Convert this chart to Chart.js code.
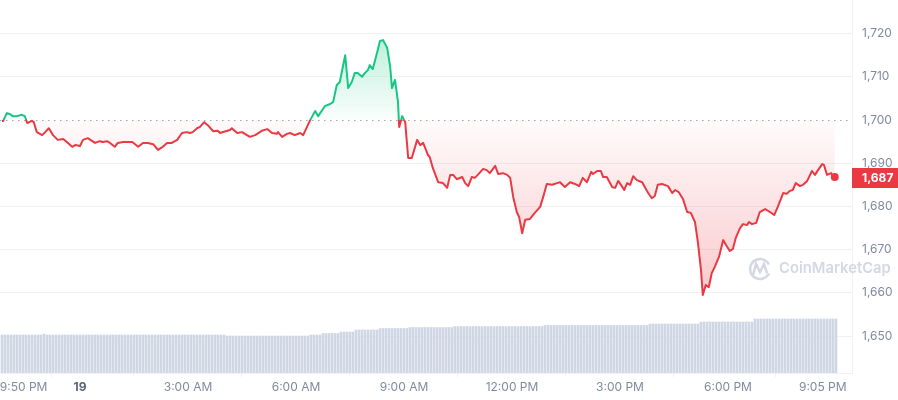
<!DOCTYPE html>
<html>
<head>
<meta charset="utf-8">
<script src="https://cdn.jsdelivr.net/npm/chart.js@4.4.0/dist/chart.umd.min.js"></script>
<style>
  html, body { margin: 0; padding: 0; background: #fff; }
  #wrap { width: 898px; height: 400px; position: relative; }
</style>
</head>
<body>
<div id="wrap"><canvas id="chart"></canvas></div>
<script>
/* price chart, 24h, minutes counted from 9:50 PM */

const priceTimes = [
  0, 2, 8, 13, 18, 25, 33, 38, 42, 50, 53, 58, 67, 72, 78, 85, 93, 102, 108, 117,
  122, 130, 135, 143, 155, 163, 168, 175, 180, 188, 193, 202, 210, 217, 227, 235, 243, 252, 260, 268,
  275, 283, 292, 300, 308, 313, 318, 325, 330, 337, 343, 352, 360, 363, 380, 383, 392, 400, 413, 422,
  433, 442, 450, 458, 460, 467, 475, 480, 488, 497, 502, 513, 522, 527, 538, 547, 552, 558, 563, 572,
  577, 583, 588, 593, 600, 605, 610, 613, 618, 625, 630, 635, 642, 647, 650, 655, 660, 662, 667, 672,
  677, 683, 692, 697, 702, 710, 713, 718, 727, 735, 742, 747, 752, 758, 767, 772, 777, 783, 788, 793,
  802, 808, 813, 822, 827, 835, 842, 847, 852, 858, 862, 867, 872, 880, 888, 897, 902, 908, 917, 925,
  930, 938, 947, 955, 962, 968, 975, 982, 985, 992, 998, 1002, 1008, 1017, 1022, 1027, 1033, 1037, 1042, 1047,
  1052, 1058, 1067, 1072, 1077, 1083, 1088, 1093, 1100, 1110, 1117, 1122, 1128, 1135, 1142, 1148, 1155, 1160, 1165, 1168,
  1173, 1178, 1183, 1188, 1195, 1202, 1208, 1213, 1218, 1223, 1230, 1235, 1242, 1245, 1250, 1257, 1263, 1272, 1280, 1287,
  1293, 1302, 1308, 1313, 1318, 1323, 1330, 1335, 1342, 1350, 1355, 1360, 1367, 1370, 1375, 1382, 1385, 1388
];

const priceValues = [
  1699.8, 1699.8, 1701.6, 1701.4, 1700.9, 1700.9, 1701.2, 1700.9, 1699.3, 1699.8, 1699.5, 1697.2, 1696.5, 1697.2, 1698.1, 1696.5, 1695.4, 1695.6, 1694.9, 1693.8,
  1694.2, 1694.0, 1695.4, 1695.8, 1694.7, 1695.1, 1694.9, 1695.1, 1694.7, 1693.8, 1694.7, 1694.9, 1694.9, 1694.9, 1693.8, 1694.7, 1694.7, 1694.4, 1693.1, 1693.8,
  1694.7, 1694.7, 1695.4, 1697.0, 1697.2, 1697.0, 1697.2, 1698.1, 1698.4, 1699.5, 1698.8, 1697.4, 1697.5, 1697.0, 1697.7, 1698.1, 1697.0, 1697.2, 1696.1, 1696.5,
  1697.5, 1697.9, 1697.0, 1696.8, 1697.2, 1696.1, 1696.8, 1697.0, 1696.5, 1697.0, 1696.5, 1699.8, 1702.1, 1700.9, 1703.2, 1703.7, 1704.2, 1708.1, 1708.8, 1715.0,
  1707.4, 1708.8, 1710.9, 1710.9, 1710.0, 1710.9, 1711.6, 1712.7, 1711.8, 1715.5, 1718.3, 1718.5, 1716.7, 1712.3, 1707.4, 1709.3, 1704.2, 1698.4, 1700.9, 1699.5,
  1691.2, 1691.2, 1695.4, 1694.2, 1694.7, 1691.9, 1691.4, 1688.9, 1685.6, 1685.4, 1684.3, 1687.3, 1687.3, 1686.3, 1686.8, 1685.4, 1684.7, 1686.8, 1686.6, 1687.3,
  1688.7, 1688.4, 1687.7, 1689.4, 1687.5, 1687.7, 1687.3, 1686.6, 1682.2, 1678.7, 1677.5, 1673.8, 1676.9, 1677.1, 1678.5, 1679.9, 1682.2, 1685.2, 1685.0, 1685.4,
  1685.6, 1684.5, 1685.6, 1685.2, 1684.7, 1686.6, 1685.6, 1688.0, 1687.5, 1688.2, 1688.2, 1686.8, 1686.8, 1684.5, 1684.3, 1685.9, 1684.7, 1683.8, 1685.4, 1685.0,
  1687.0, 1686.1, 1685.6, 1684.3, 1683.1, 1681.9, 1682.4, 1685.0, 1685.2, 1684.7, 1683.1, 1683.8, 1683.3, 1681.7, 1678.7, 1678.5, 1676.4, 1671.5, 1665.3, 1659.5,
  1661.8, 1661.3, 1664.6, 1666.0, 1668.3, 1672.2, 1670.8, 1669.7, 1670.1, 1672.7, 1675.0, 1675.9, 1675.7, 1676.4, 1675.9, 1676.2, 1678.7, 1679.4, 1678.7, 1678.0,
  1679.9, 1683.1, 1682.9, 1683.6, 1683.8, 1685.4, 1684.7, 1685.0, 1685.9, 1688.2, 1687.3, 1688.4, 1689.8, 1689.6, 1687.3, 1687.7, 1686.8, 1686.8
];

// 5-minute volume bars (M)
const volumeValues = [
  380, 380, 380, 380, 380, 380, 380, 380, 380, 380, 380, 380, 380, 380, 390, 380, 380, 380, 380, 380,
  380, 380, 380, 380, 380, 380, 380, 380, 380, 380, 380, 380, 380, 380, 380, 380, 380, 380, 380, 380,
  380, 380, 380, 380, 380, 380, 380, 380, 380, 380, 380, 380, 380, 380, 380, 380, 380, 380, 380, 380,
  380, 380, 380, 380, 380, 380, 380, 380, 380, 380, 380, 380, 380, 380, 380, 370, 370, 370, 370, 370,
  370, 370, 370, 370, 370, 370, 370, 370, 370, 370, 370, 370, 370, 370, 370, 370, 370, 370, 370, 370,
  370, 370, 370, 380, 380, 380, 380, 395, 395, 395, 395, 395, 395, 410, 410, 410, 410, 410, 430, 430,
  430, 430, 430, 430, 430, 430, 445, 445, 445, 445, 445, 445, 445, 445, 445, 445, 455, 455, 455, 455,
  455, 455, 455, 455, 455, 455, 455, 455, 455, 455, 455, 465, 465, 465, 465, 465, 465, 465, 465, 465,
  465, 465, 465, 465, 465, 465, 465, 465, 465, 465, 465, 465, 465, 465, 465, 465, 465, 465, 465, 465,
  465, 475, 475, 475, 475, 475, 475, 475, 475, 475, 475, 475, 475, 475, 475, 475, 475, 475, 475, 475,
  475, 475, 475, 475, 475, 475, 475, 475, 475, 475, 475, 475, 475, 475, 475, 475, 490, 490, 490, 490,
  490, 490, 490, 490, 490, 490, 490, 490, 490, 490, 490, 490, 490, 510, 510, 510, 510, 510, 510, 510,
  510, 510, 510, 510, 510, 510, 510, 510, 510, 510, 510, 540, 540, 540, 540, 540, 540, 540, 540, 540,
  540, 540, 540, 540, 540, 540, 540, 540, 540, 540, 540, 540, 540, 540, 540, 540, 540, 540, 540
];

const openPrice = 1700;
const yTicks = [1650, 1660, 1670, 1680, 1690, 1700, 1710, 1720];
const xTickMinutes = [36, 130, 310, 490, 670, 850, 1030, 1210, 1368];
const xTickLabels = ['9:50 PM', '19', '3:00 AM', '6:00 AM', '9:00 AM', '12:00 PM', '3:00 PM', '6:00 PM', '9:05 PM'];

const GREEN = '#16c784';
const RED = '#ea3943';
const AXIS_TEXT = '#808a9d';
const GRID = '#eff2f5';

Chart.defaults.font.family = "'Inter', 'Noto Sans', sans-serif";

/* vertical gradient that switches colour at the open price */
function splitGradient(chart, topColor, midTop, midBottom, bottomColor) {
  const { ctx, chartArea, scales } = chart;
  if (!chartArea) return null;
  const base = scales.y.getPixelForValue(openPrice);
  const f = Math.min(Math.max((base - chartArea.top) / (chartArea.bottom - chartArea.top), 0), 1);
  const g = ctx.createLinearGradient(0, chartArea.top, 0, chartArea.bottom);
  g.addColorStop(0, topColor);
  g.addColorStop(f, midTop);
  g.addColorStop(Math.min(f + 0.0001, 1), midBottom);
  g.addColorStop(1, bottomColor);
  return g;
}

// axes should not ask the layout for extra room around the plot
function noPadding(s) {
  s.paddingTop = 0;
  s.paddingBottom = 0;
  s.paddingLeft = 0;
  s.paddingRight = 0;
}

const baselinePlugin = {
  id: 'baseline',
  beforeDatasetsDraw(chart) {
    const { ctx, chartArea, scales } = chart;
    const y = Math.round(scales.y.getPixelForValue(openPrice)) + 0.5;
    ctx.save();
    // watermark
    ctx.strokeStyle = '#d3d8e2';
    ctx.fillStyle = '#d3d8e2';
    ctx.lineWidth = 2.5;
    ctx.beginPath();
    ctx.arc(760, 269, 10, 0.15 * Math.PI, 1.85 * Math.PI, false);
    ctx.stroke();
    ctx.beginPath();
    ctx.moveTo(753, 275);
    ctx.lineTo(756, 264);
    ctx.lineTo(760, 272);
    ctx.lineTo(764, 264);
    ctx.lineTo(767, 273);
    ctx.stroke();
    ctx.font = "600 14.8px 'Inter', sans-serif";
    ctx.textBaseline = 'middle';
    ctx.fillText('CoinMarketCap', 779, 269);
    // dotted open-price line
    ctx.strokeStyle = '#a1a7bb';
    ctx.lineWidth = 1;
    ctx.setLineDash([1.5, 4.5]);
    ctx.beginPath();
    ctx.moveTo(chartArea.left, y);
    ctx.lineTo(chartArea.right, y);
    ctx.stroke();
    ctx.restore();
  }
};

const priceTagPlugin = {
  id: 'priceTag',
  afterDraw(chart) {
    const { ctx, chartArea, scales } = chart;
    const last = priceValues[priceValues.length - 1];
    const y = scales.y.getPixelForValue(last);
    ctx.save();
    ctx.fillStyle = RED;
    ctx.fillRect(chartArea.right, Math.round(y - 9), chart.width - chartArea.right, 20);
    ctx.fillStyle = '#fff';
    ctx.font = "bold 12px 'Inter', sans-serif";
    ctx.textBaseline = 'middle';
    ctx.fillText(Math.round(last).toLocaleString('en-US'), chartArea.right + 10, y + 1.5);
    ctx.restore();
  }
};

new Chart(document.getElementById('chart'), {
  type: 'line',
  data: {
    datasets: [
      {
        type: 'line',
        data: priceTimes.map((t, i) => ({ x: t, y: priceValues[i] })),
        yAxisID: 'y',
        order: 1,
        borderWidth: 2,
        borderJoinStyle: 'round',
        tension: 0,
        borderColor: (c) => splitGradient(c.chart, GREEN, GREEN, RED, RED) || RED,
        backgroundColor: (c) => splitGradient(c.chart,
          'rgba(22,199,132,0.4)', 'rgba(22,199,132,0.02)',
          'rgba(234,57,67,0.02)', 'rgba(234,57,67,0.38)') || 'transparent',
        fill: { value: openPrice },
        pointRadius: (c) => c.dataIndex === priceValues.length - 1 ? 4 : 0,
        pointBackgroundColor: RED,
        pointBorderColor: RED,
        pointBorderWidth: 0,
      },
      {
        type: 'bar',
        data: volumeValues.map((v, i) => ({ x: i * 5, y: v })),
        yAxisID: 'yv',
        order: 2,
        backgroundColor: '#cfd6e4',
        barThickness: 2,
        grouped: false,
      }
    ]
  },
  options: {
    responsive: true,
    maintainAspectRatio: false,
    animation: false,
    layout: { padding: 0, autoPadding: false },
    plugins: {
      legend: { display: false },
      tooltip: { enabled: false },
    },
    scales: {
      x: {
        type: 'linear',
        offset: false,
        min: -3.33,
        max: 1416.7,
        afterBuildTicks: (s) => { s.ticks = xTickMinutes.map(v => ({ value: v })); },
        afterFit: (s) => { s.height = 27; noPadding(s); },
        grid: {
          drawOnChartArea: false,
          drawTicks: true,
          tickLength: 4,
          color: (c) => c.index === 0 ? 'transparent' : GRID,
        },
        border: { display: true, color: GRID },
        ticks: {
          autoSkip: false,
          maxRotation: 0,
          padding: 3,
          callback: (v, i) => xTickLabels[i],
          color: (c) => c.index === 1 ? '#58667e' : AXIS_TEXT,
          font: (c) => ({ size: 12, weight: c.index === 1 ? 'bold' : 'normal' }),
        }
      },
      y: {
        position: 'right',
        min: 1641.44,
        max: 1727.78,
        afterBuildTicks: (s) => { s.ticks = yTicks.map(v => ({ value: v })); },
        afterFit: (s) => { s.width = 46; noPadding(s); },
        grid: {
          drawTicks: false,
          color: (c) => c.tick && c.tick.value === openPrice ? 'transparent' : GRID,
        },
        border: { display: true, color: GRID },
        ticks: {
          padding: 10,
          color: AXIS_TEXT,
          font: { size: 12 },
          callback: (v) => v.toLocaleString('en-US'),
        }
      },
      yv: {
        display: false,
        min: 0,
        max: 3730,
      }
    }
  },
  plugins: [baselinePlugin, priceTagPlugin]
});
</script>
</body>
</html>
